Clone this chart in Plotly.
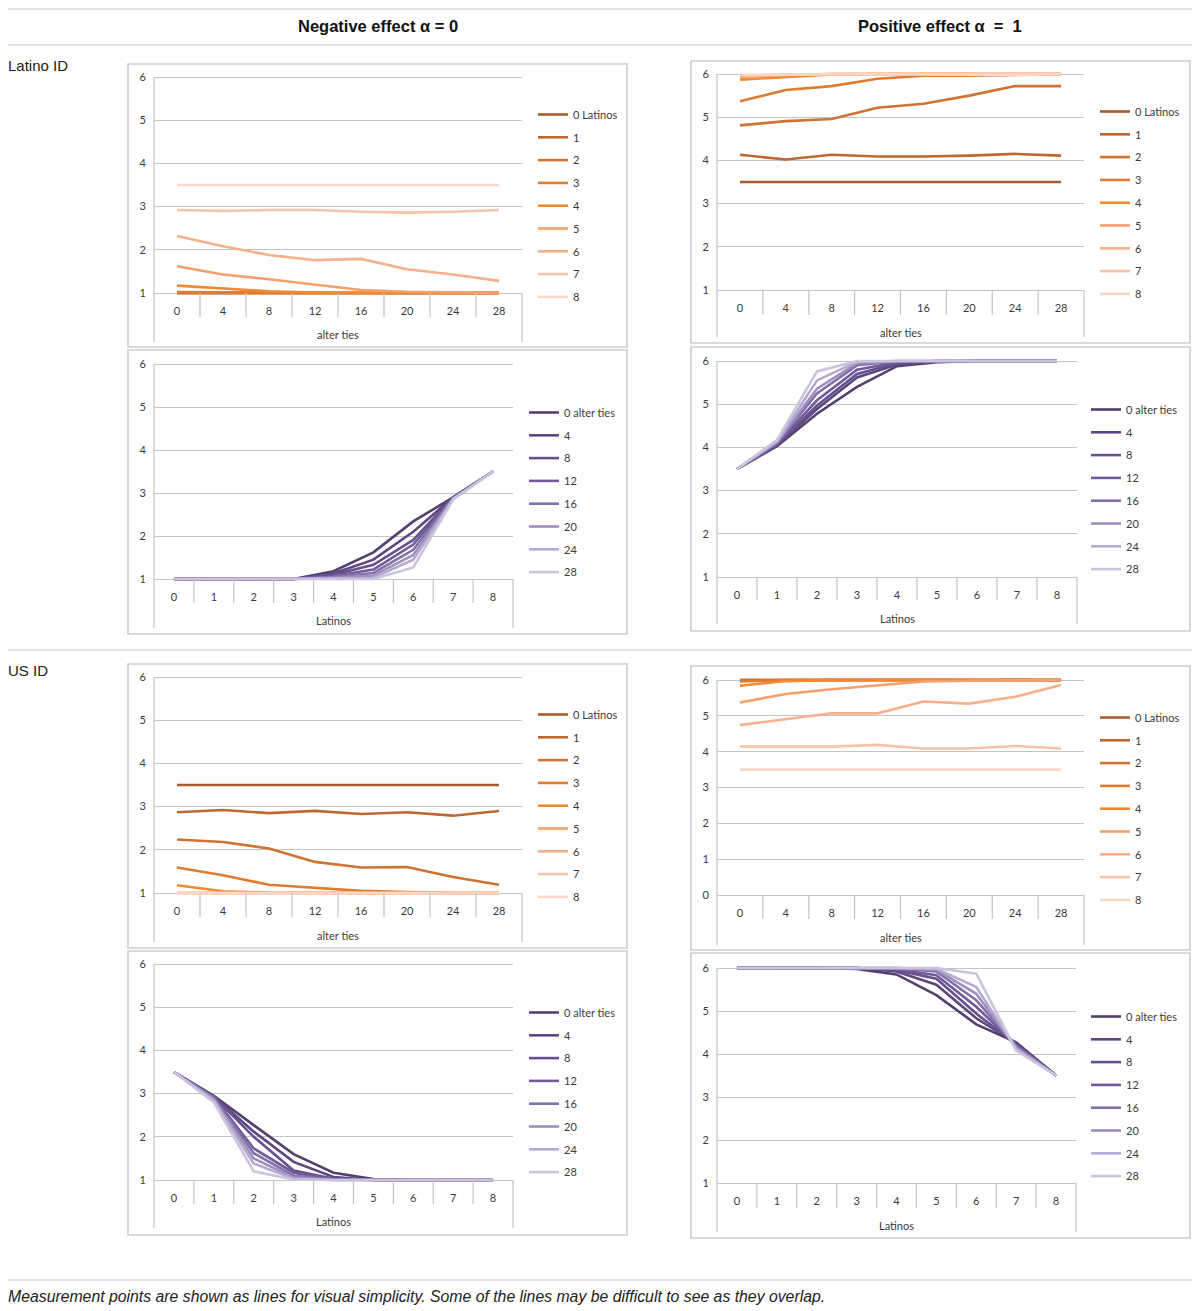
import plotly.graph_objects as go

W, H = 1200, 1311

# category labels
alter_ties = ["0", "4", "8", "12", "16", "20", "24", "28"]
latinos = ["0", "1", "2", "3", "4", "5", "6", "7", "8"]
latino_series = ["0 Latinos", "1", "2", "3", "4", "5", "6", "7", "8"]
ties_series = ["0 alter ties", "4", "8", "12", "16", "20", "24", "28"]

orange = ["#a85c2c", "#bd6832", "#cf7333", "#de7c32", "#f2892e",
          "#f5a06c", "#f6b08b", "#f8c3a8", "#fad6c6"]
purple = ["#54406e", "#5e4780", "#68508e", "#73599b", "#8470a9",
          "#9d8ebd", "#b5a9cf", "#cbc3de"]

# Latino ID, negative effect, x = alter ties, one series per number of Latinos
lat_neg_ties = [
    [1, 1, 1, 1, 1, 1, 1, 1],
    [1, 1, 1, 1, 1, 1, 1, 1],
    [1, 1, 1, 1, 1, 1, 1, 1],
    [1.02, 1.01, 1, 1, 1, 1, 1, 1],
    [1.17, 1.1, 1.04, 1.01, 1, 1, 1, 1],
    [1.62, 1.43, 1.32, 1.19, 1.07, 1.03, 1.01, 1.0],
    [2.32, 2.08, 1.88, 1.76, 1.79, 1.55, 1.43, 1.28],
    [2.92, 2.9, 2.92, 2.92, 2.88, 2.86, 2.88, 2.92],
    [3.5, 3.5, 3.5, 3.5, 3.5, 3.5, 3.5, 3.5],
]
# Latino ID, positive effect, x = alter ties
lat_pos_ties = [
    [3.5, 3.5, 3.5, 3.5, 3.5, 3.5, 3.5, 3.5],
    [4.13, 4.02, 4.13, 4.09, 4.09, 4.11, 4.15, 4.11],
    [4.81, 4.91, 4.96, 5.22, 5.31, 5.5, 5.72, 5.72],
    [5.37, 5.63, 5.72, 5.89, 5.96, 5.96, 5.98, 6.0],
    [5.87, 5.93, 5.99, 6, 6, 6, 6, 6],
    [5.94, 5.97, 6, 6, 6, 6, 6, 6],
    [5.96, 5.98, 6, 6, 6, 6, 6, 6],
    [5.97, 5.99, 6, 6, 6, 6, 5.99, 6],
    [5.98, 5.99, 6, 6, 5.99, 5.98, 5.98, 6],
]
# Latino ID, negative effect, x = Latinos, one series per alter ties
lat_neg_latinos = [
    [1, 1, 1, 1, 1.18, 1.62, 2.34, 2.9, 3.5],
    [1, 1, 1, 1, 1.13, 1.45, 2.1, 2.9, 3.5],
    [1, 1, 1, 1, 1.1, 1.33, 1.91, 2.9, 3.5],
    [1, 1, 1, 1, 1.07, 1.22, 1.8, 2.89, 3.5],
    [1, 1, 1, 1, 1.05, 1.14, 1.68, 2.88, 3.5],
    [1, 1, 1, 1, 1.03, 1.08, 1.56, 2.87, 3.5],
    [1, 1, 1, 1, 1.01, 1.03, 1.45, 2.86, 3.5],
    [1, 1, 1, 1, 1.0, 1.0, 1.27, 2.85, 3.5],
]
# Latino ID, positive effect, x = Latinos
lat_pos_latinos = [
    [3.5, 4.03, 4.78, 5.4, 5.88, 5.97, 6, 6, 6],
    [3.5, 4.05, 4.89, 5.62, 5.92, 5.99, 6, 6, 6],
    [3.5, 4.06, 4.97, 5.7, 5.95, 6, 6, 6, 6],
    [3.5, 4.08, 5.09, 5.8, 5.97, 6, 6, 6, 6],
    [3.5, 4.1, 5.25, 5.9, 5.99, 6, 6, 6, 6],
    [3.5, 4.12, 5.36, 5.95, 6, 6, 6, 6, 6],
    [3.5, 4.14, 5.55, 5.98, 6, 6, 6, 6, 6],
    [3.5, 4.17, 5.76, 6.0, 6, 6, 6, 6, 6],
]
# US ID, negative effect, x = alter ties
us_neg_ties = [
    [3.5, 3.5, 3.5, 3.5, 3.5, 3.5, 3.5, 3.5],
    [2.87, 2.92, 2.85, 2.9, 2.83, 2.87, 2.79, 2.9],
    [2.24, 2.18, 2.03, 1.72, 1.59, 1.6, 1.37, 1.19],
    [1.59, 1.41, 1.19, 1.12, 1.05, 1.02, 1.0, 1.0],
    [1.18, 1.04, 1.01, 1, 1, 1, 1, 1],
    [1, 1, 1, 1, 1, 1, 1, 1],
    [1, 1, 1, 1, 1, 1, 1, 1],
    [1, 1, 1, 1, 1, 1, 1, 1],
    [1, 1, 1, 1, 1, 1, 1, 1],
]
# US ID, positive effect, x = alter ties
us_pos_ties = [
    [6, 6, 6, 6, 6, 6, 6, 6],
    [6, 6, 6, 6, 6, 6, 6, 6],
    [5.99, 6, 6, 6, 6, 6, 6, 6],
    [5.96, 6, 6, 6, 6, 6, 6, 6],
    [5.84, 5.97, 6, 6, 6, 6, 6, 6],
    [5.37, 5.61, 5.74, 5.85, 5.96, 5.98, 6.0, 6.0],
    [4.74, 4.91, 5.07, 5.07, 5.4, 5.34, 5.53, 5.86],
    [4.14, 4.14, 4.14, 4.19, 4.09, 4.09, 4.16, 4.09],
    [3.5, 3.5, 3.5, 3.5, 3.5, 3.5, 3.5, 3.5],
]
# US ID, negative effect, x = Latinos
us_neg_latinos = [
    [3.5, 2.95, 2.27, 1.6, 1.17, 1.02, 1, 1, 1],
    [3.5, 2.94, 2.12, 1.42, 1.07, 1, 1, 1, 1],
    [3.5, 2.93, 2.0, 1.22, 1.03, 1, 1, 1, 1],
    [3.5, 2.92, 1.73, 1.17, 1.02, 1, 1, 1, 1],
    [3.5, 2.9, 1.62, 1.1, 1.01, 1, 1, 1, 1],
    [3.5, 2.87, 1.5, 1.06, 1, 1, 1, 1, 1],
    [3.5, 2.84, 1.38, 1.03, 1, 1, 1, 1, 1],
    [3.5, 2.8, 1.2, 1.01, 1, 1, 1, 1, 1],
]
# US ID, positive effect, x = Latinos
us_pos_latinos = [
    [6, 6, 6, 5.98, 5.85, 5.37, 4.69, 4.27, 3.5],
    [6, 6, 6, 6, 5.92, 5.61, 4.83, 4.25, 3.5],
    [6, 6, 6, 6, 5.95, 5.75, 4.94, 4.23, 3.5],
    [6, 6, 6, 6, 5.97, 5.83, 5.1, 4.2, 3.5],
    [6, 6, 6, 6, 5.99, 5.92, 5.25, 4.18, 3.5],
    [6, 6, 6, 6, 6, 5.96, 5.4, 4.15, 3.5],
    [6, 6, 6, 6, 6, 5.98, 5.56, 4.12, 3.5],
    [6, 6, 6, 6, 6, 6.0, 5.87, 4.08, 3.5],
]

# panel layout in screen pixels: box, plot area (left, right, y of top value, y of bottom value),
# tick divider bottom, axis extension bottom, axis title y, legend (x, y)
panels = [
    dict(data=lat_neg_ties, cats=alter_ties, names=latino_series, colors=orange, ymin=1, title="alter ties",
         box=(128, 627, 64, 347), plot=(154, 522, 77, 293), tickbot=317, extbot=342, ty=335, leg=(533, 100)),
    dict(data=lat_pos_ties, cats=alter_ties, names=latino_series, colors=orange, ymin=1, title="alter ties",
         box=(691, 1190, 61, 343), plot=(717, 1084, 74, 290), tickbot=315, extbot=337, ty=332, leg=(1095, 97)),
    dict(data=lat_neg_latinos, cats=latinos, names=ties_series, colors=purple, ymin=1, title="Latinos",
         box=(128, 627, 350, 634), plot=(154, 513, 364, 579), tickbot=603, extbot=628, ty=621, leg=(524, 398)),
    dict(data=lat_pos_latinos, cats=latinos, names=ties_series, colors=purple, ymin=1, title="Latinos",
         box=(691, 1190, 347, 631), plot=(717, 1077, 361, 577), tickbot=600, extbot=624, ty=618, leg=(1086, 395)),
    dict(data=us_neg_ties, cats=alter_ties, names=latino_series, colors=orange, ymin=1, title="alter ties",
         box=(128, 627, 664, 948), plot=(154, 522, 677, 893), tickbot=917, extbot=942, ty=935, leg=(533, 700)),
    dict(data=us_pos_ties, cats=alter_ties, names=latino_series, colors=orange, ymin=0, title="alter ties",
         box=(691, 1190, 666, 950), plot=(717, 1084, 680, 895), tickbot=919, extbot=945, ty=937, leg=(1095, 703)),
    dict(data=us_neg_latinos, cats=latinos, names=ties_series, colors=purple, ymin=1, title="Latinos",
         box=(128, 627, 951, 1235), plot=(154, 513, 964, 1180), tickbot=1204, extbot=1228, ty=1221, leg=(524, 998)),
    dict(data=us_pos_latinos, cats=latinos, names=ties_series, colors=purple, ymin=1, title="Latinos",
         box=(691, 1190, 953, 1238), plot=(717, 1076, 968, 1183), tickbot=1208, extbot=1232, ty=1225, leg=(1086, 1002)),
]

GRID = "#c4c4c4"
BOX = "#cdcdcd"
SEP = "#dadada"
TXT = "#3a3a3a"
CHART_FONT = "Lato, Open Sans, sans-serif"
PAGE_FONT = "Liberation Sans, Arial, sans-serif"

# the page body adds an 8px margin, so screen positions are shifted back by it
OFF = 8


def px(x):
    return (x - OFF) / W


def py(y):
    return 1 - (y - OFF) / H


fig = go.Figure()
shapes = []
annotations = []

for i, p in enumerate(panels, start=1):
    sfx = "" if i == 1 else str(i)
    left, right, ptop, pbot = p["plot"]
    ymin, ymax = p["ymin"], 6
    unit = (pbot - ptop) / (ymax - ymin)
    padpx = 2.5
    n = len(p["cats"])

    fig.update_layout({
        f"xaxis{sfx}": dict(
            domain=[px(left), px(right)], anchor=f"y{sfx}", type="category",
            range=[-0.5, n - 0.5], showgrid=False, showline=False, zeroline=False,
            ticks="outside", ticklen=5, tickcolor="rgba(0,0,0,0)", automargin=False,
            tickfont=dict(family=CHART_FONT, size=11, color=TXT), fixedrange=True,
        ),
        f"yaxis{sfx}": dict(
            domain=[py(pbot + padpx), py(ptop - padpx)], anchor=f"x{sfx}",
            range=[ymin - padpx / unit, ymax + padpx / unit], tick0=0, dtick=1,
            showgrid=True, gridcolor=GRID, gridwidth=1, zeroline=False, showline=False,
            ticks="outside", ticklen=5, tickcolor="rgba(0,0,0,0)", automargin=False,
            tickfont=dict(family=CHART_FONT, size=11, color=TXT), fixedrange=True,
        ),
        f"legend{sfx}": dict(
            x=px(p["leg"][0]), y=py(p["leg"][1]), xanchor="left", yanchor="top",
            bgcolor="rgba(0,0,0,0)", borderwidth=0, tracegroupgap=3.8,
            font=dict(family=CHART_FONT, size=11, color=TXT), itemclick=False,
        ),
    })

    for name, vals, col in zip(p["names"], p["data"], p["colors"]):
        fig.add_trace(go.Scatter(
            x=p["cats"], y=vals, name=name, mode="lines",
            line=dict(color=col, width=2.6),
            xaxis=f"x{sfx}", yaxis=f"y{sfx}", legend=f"legend{sfx}",
            legendgroup=f"p{i}-{name}", hoverinfo="skip",
        ))

    # chart frame
    b = p["box"]
    shapes.append(dict(type="rect", xref="paper", yref="paper",
                       x0=px(b[0]), x1=px(b[1]), y0=py(b[3]), y1=py(b[2]),
                       line=dict(color=BOX, width=1.6), layer="below"))
    # value axis line running down through the category area
    shapes.append(dict(type="line", xref="paper", yref="paper",
                       x0=px(left), x1=px(left), y0=py(ptop), y1=py(p["extbot"]),
                       line=dict(color=GRID, width=1.2)))
    shapes.append(dict(type="line", xref="paper", yref="paper",
                       x0=px(right), x1=px(right), y0=py(pbot), y1=py(p["extbot"]),
                       line=dict(color=GRID, width=1.2)))
    # category dividers
    for k in range(1, n):
        shapes.append(dict(type="line", xref=f"x{sfx} domain", yref="paper",
                           x0=k / n, x1=k / n, y0=py(pbot), y1=py(p["tickbot"]),
                           line=dict(color=GRID, width=1.2)))
    annotations.append(dict(text=p["title"], xref=f"x{sfx} domain", yref="paper",
                            x=0.5, y=py(p["ty"]), xanchor="center", yanchor="middle",
                            showarrow=False, font=dict(family=CHART_FONT, size=11, color=TXT)))

# page separators
for yy in (9, 45, 650, 1280):
    shapes.append(dict(type="line", xref="paper", yref="paper",
                       x0=px(5), x1=px(1194), y0=py(yy), y1=py(yy),
                       line=dict(color=SEP, width=1.5)))

annotations += [
    dict(text="<b>Negative effect α = 0</b>", x=px(378), y=py(26)),
    dict(text="<b>Positive effect α  =  1</b>", x=px(940), y=py(26)),
]
for a in annotations[-2:]:
    a.update(xref="paper", yref="paper", xanchor="center", yanchor="middle", showarrow=False,
             font=dict(family=PAGE_FONT, size=16.5, color="#111111"))

annotations += [
    dict(text="Latino ID", x=px(6), y=py(66)),
    dict(text="US ID", x=px(6), y=py(670)),
]
for a in annotations[-2:]:
    a.update(xref="paper", yref="paper", xanchor="left", yanchor="middle", showarrow=False,
             font=dict(family=PAGE_FONT, size=15, color="#222222"))

annotations.append(dict(
    text="<i>Measurement points are shown as lines for visual simplicity. "
         "Some of the lines may be difficult to see as they overlap.</i>",
    xref="paper", yref="paper", x=px(6), y=py(1296), xanchor="left", yanchor="middle",
    showarrow=False, font=dict(family=PAGE_FONT, size=15.8, color="#222222"),
))

fig.update_layout(
    width=W, height=H, margin=dict(l=0, r=0, t=0, b=0, autoexpand=False),
    paper_bgcolor="white", plot_bgcolor="white",
    shapes=shapes, annotations=annotations, showlegend=True,
)

fig.write_html("out.html")
